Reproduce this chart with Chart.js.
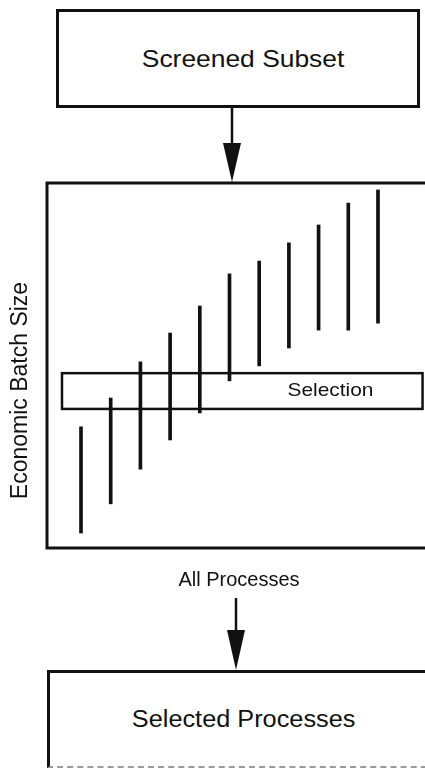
<!DOCTYPE html>
<html>
<head>
<meta charset="utf-8">
<script src="https://cdn.jsdelivr.net/npm/chart.js@4"></script>
<style>
  html, body { margin: 0; padding: 0; background: #fff; }
  body { width: 425px; height: 768px; overflow: hidden; position: relative; font-family: "Liberation Sans", Arial, Helvetica, sans-serif; color: #111; }
  .box { position: absolute; box-sizing: border-box; border: 3px solid #111; display: flex; align-items: center; justify-content: center; }
  .box span { display: inline-block; transform: scaleX(1.1); white-space: nowrap; }
  #top { left: 56px; top: 9px; width: 364px; height: 99px; font-size: 24px; padding-left: 11px; }
  #bottom { left: 47px; top: 670px; width: 400px; height: 98px; font-size: 23px; border-right: none; border-bottom: 2px dashed #9a9a9a; padding-right: 10px; }
  #chartWrap { position: absolute; left: 0; top: 170px; }
  svg { position: absolute; left: 0; top: 0; }
</style>
</head>
<body>
<div id="top" class="box"><span>Screened Subset</span></div>
<div id="chartWrap"><canvas id="chart" width="431" height="430"></canvas></div>
<div id="bottom" class="box"><span>Selected Processes</span></div>
<svg width="425" height="768">
  <line x1="232" y1="107" x2="232" y2="145" stroke="#111" stroke-width="2.5"/>
  <polygon points="223,143 241,143 232,182" fill="#111"/>
  <line x1="236" y1="598" x2="236" y2="632" stroke="#111" stroke-width="2.5"/>
  <polygon points="227,630 245,630 236,670" fill="#111"/>
</svg>
<script>
// processes, ordered along the x axis
const processes = [1, 2, 3, 4, 5, 6, 7, 8, 9, 10, 11];
// economic batch size range of each process (arbitrary units)
const batchLow  = [4.1, 12.1, 21.6, 29.6, 37.0, 45.8, 49.9, 54.8, 59.7, 59.7, 61.6];
const batchHigh = [33.2, 41.1, 51.0, 58.9, 66.3, 75.1, 78.6, 83.6, 88.5, 94.5, 98.1];
// selection window on batch size, and the process span it is drawn across
const selectionBand = [38.1, 47.9];
const selectionSpan = [0.36, 12.5];
const selectionLabel = 'Selection';
const yLabel = 'Economic Batch Size';
const xLabel = 'All Processes';

const FONT = '"Liberation Sans", Arial, Helvetica, sans-serif';

const rangeData = processes.map((p, i) => ({ x: p, y: [batchLow[i], batchHigh[i]] }));

const framePlugin = {
  id: 'frame',
  afterDatasetsDraw(chart) {
    const { ctx, chartArea, scales } = chart;
    ctx.save();
    ctx.strokeStyle = '#111';
    // outer frame
    ctx.lineWidth = 3;
    ctx.strokeRect(chartArea.left, chartArea.top, chartArea.right - chartArea.left, chartArea.bottom - chartArea.top);
    // selection band
    const x0 = scales.x.getPixelForValue(selectionSpan[0]);
    const x1 = scales.x.getPixelForValue(selectionSpan[1]);
    const yTop = scales.y.getPixelForValue(selectionBand[1]);
    const yBot = scales.y.getPixelForValue(selectionBand[0]);
    ctx.lineWidth = 2.5;
    ctx.strokeRect(x0, yTop, x1 - x0, yBot - yTop);
    ctx.fillStyle = '#111';
    ctx.font = '19px ' + FONT;
    ctx.textAlign = 'center';
    ctx.textBaseline = 'middle';
    ctx.save();
    ctx.translate(scales.x.getPixelForValue(9.4), (yTop + yBot) / 2);
    ctx.scale(1.1, 1);
    ctx.fillText(selectionLabel, 0, 0);
    ctx.restore();
    // y axis label
    ctx.save();
    ctx.translate(21, (chartArea.top + chartArea.bottom) / 2 + 25);
    ctx.rotate(-Math.PI / 2);
    ctx.font = '23px ' + FONT;
    ctx.fillText(yLabel, 0, 0);
    ctx.restore();
    ctx.restore();
  }
};

new Chart(document.getElementById('chart'), {
  type: 'bar',
  data: {
    datasets: [{
      data: rangeData,
      backgroundColor: '#111',
      borderWidth: 0,
      barThickness: 3
    }]
  },
  options: {
    responsive: false,
    animation: false,
    devicePixelRatio: 1,
    layout: { padding: { left: 47, top: 13, right: 0, bottom: 0 } },
    plugins: { legend: { display: false }, tooltip: { enabled: false } },
    scales: {
      x: {
        type: 'linear',
        min: -0.145,
        max: 12.785,
        offset: false,
        grid: { display: false },
        border: { display: false },
        ticks: { display: false },
        title: {
          display: true,
          text: xLabel,
          color: '#111',
          font: { family: FONT, size: 20 },
          padding: { top: 0, bottom: 8 }
        },
        afterFit(scale) { scale.height = 52; }
      },
      y: {
        display: false,
        min: 0,
        max: 100
      }
    }
  },
  plugins: [framePlugin]
});
</script>
</body>
</html>
